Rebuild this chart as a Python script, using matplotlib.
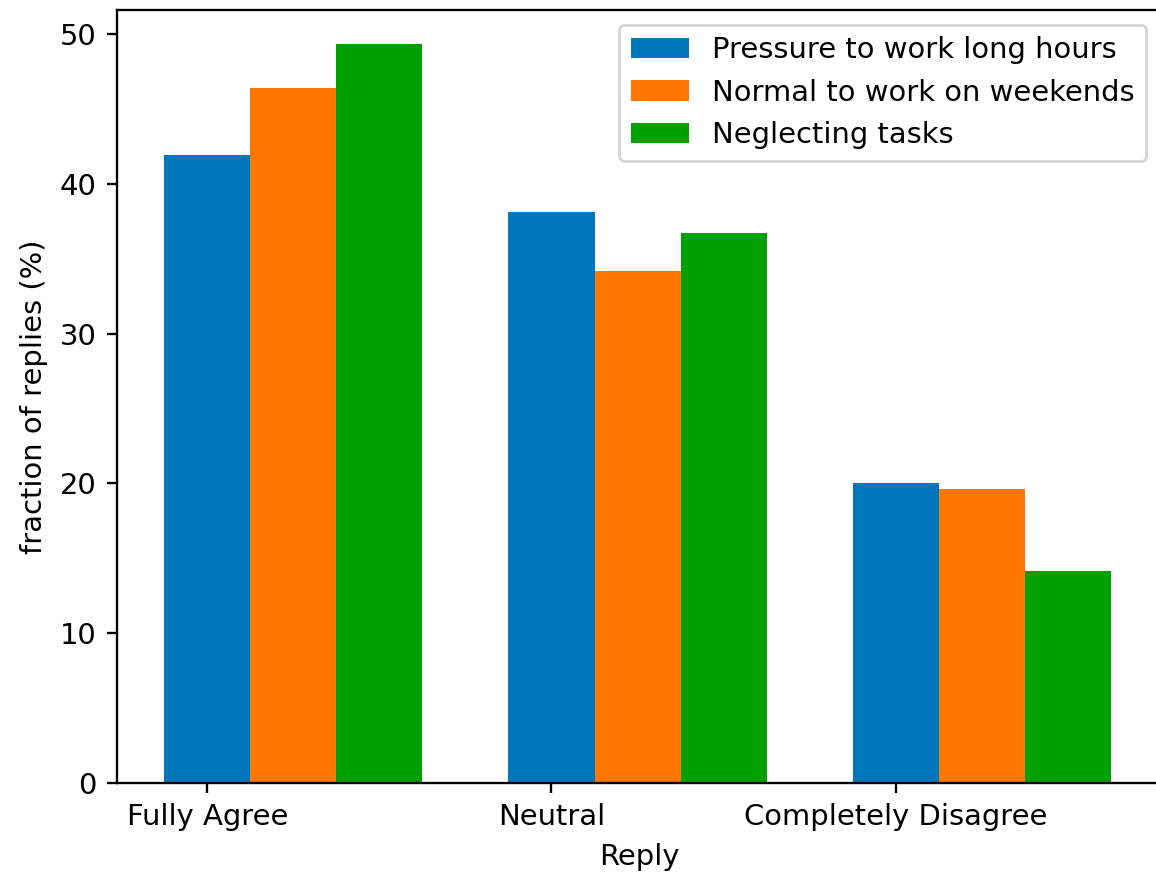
import matplotlib
matplotlib.use("Agg")
import matplotlib.pyplot as plt
import numpy as np

categories = ["Fully Agree", "Neutral", "Completely Disagree"]
series_names = ["Pressure to work long hours", "Normal to work on weekends", "Neglecting tasks"]
pressure = [41.9, 38.1, 20.0]
weekends = [46.4, 34.2, 19.6]
neglect = [49.3, 36.7, 14.15]
colors = ["#0077BB", "#FF7700", "#00A000"]

DPI = 209
fig = plt.figure(figsize=(1156 / DPI, 875 / DPI), dpi=DPI)
ax = fig.add_axes([117 / 1156, 92 / 875, (1161 - 117) / 1156, (783 - 10) / 875])

x = np.arange(len(categories))
w = 0.25
for i, (vals, name) in enumerate(zip([pressure, weekends, neglect], series_names)):
    ax.bar(x + i * w, vals, width=w, color=colors[i], label=name)

ax.set_xticks(x)
ax.set_xticklabels(categories)
ax.set_xlim(-0.2625, 2.771)
ax.set_ylim(0, 51.6)
ax.set_yticks([0, 10, 20, 30, 40, 50])
ax.set_xlabel("Reply")
ax.set_ylabel("fraction of replies (%)")
ax.spines["right"].set_visible(False)
ax.legend(loc="upper right", borderaxespad=0.5)

fig.savefig("out.png", dpi=DPI)
